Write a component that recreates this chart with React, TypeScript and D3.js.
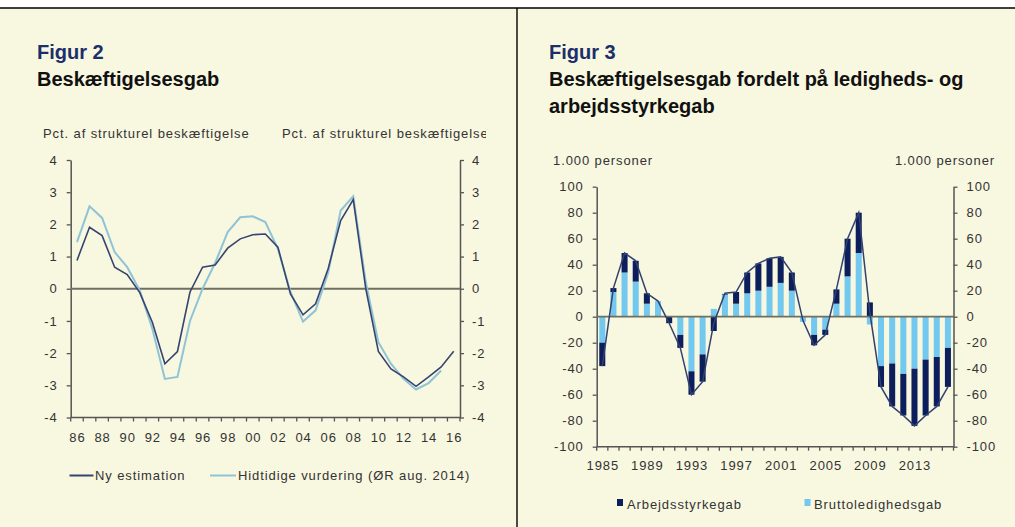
import React, { useRef, useEffect } from "react";
import * as d3 from "d3";

// Figur 2 - beskæftigelsesgab, pct. af strukturel beskæftigelse
const yearsFig2 = [1986, 1987, 1988, 1989, 1990, 1991, 1992, 1993, 1994, 1995, 1996, 1997, 1998, 1999, 2000, 2001, 2002, 2003, 2004, 2005, 2006, 2007, 2008, 2009, 2010, 2011, 2012, 2013, 2014, 2015, 2016];
const nyEstimation = [0.88, 1.91, 1.65, 0.67, 0.44, -0.12, -1.04, -2.33, -1.95, -0.1, 0.67, 0.74, 1.26, 1.55, 1.68, 1.7, 1.29, -0.16, -0.81, -0.47, 0.62, 2.12, 2.77, 0.0, -1.95, -2.49, -2.74, -3.03, -2.74, -2.43, -1.94];
const hidtidigeVurdering = [1.45, 2.56, 2.2, 1.14, 0.67, -0.05, -1.24, -2.8, -2.74, -1.0, 0.0, 0.8, 1.76, 2.22, 2.25, 2.07, 1.24, -0.1, -1.02, -0.67, 0.5, 2.43, 2.87, 0.2, -1.66, -2.33, -2.8, -3.13, -2.93, -2.54, null];
const fig2YearLabels = ["86", "88", "90", "92", "94", "96", "98", "00", "02", "04", "06", "08", "10", "12", "14", "16"];
const fig2Ticks = [-4, -3, -2, -1, 0, 1, 2, 3, 4];

// Figur 3 - 1.000 personer
const yearsFig3 = [1985, 1986, 1987, 1988, 1989, 1990, 1991, 1992, 1993, 1994, 1995, 1996, 1997, 1998, 1999, 2000, 2001, 2002, 2003, 2004, 2005, 2006, 2007, 2008, 2009, 2010, 2011, 2012, 2013, 2014, 2015, 2016];
const bruttoledighedsgab = [-20, 19, 34, 27, 10, 12, 0, -14, -42, -29, 6, 17, 10, 18, 20, 23, 26, 20, -4, -14, -10, 10, 31, 49, -6, -38, -36, -44, -40, -33, -31, -24];
const arbejdsstyrkegab = [-18, 3, 15, 16, 8, 0, -5, -10, -18, -21, -11, 0.5, 9, 16, 21, 22, 20, 14, 0, -8, -4, 11, 29, 31, 11, -16, -33, -32, -44, -43, -38, -30];
const beskaeftigelsesgab = [-38, 22, 49, 43, 18, 12, -5, -24, -60, -50, -5, 18, 19, 34, 41, 45, 46, 34, -3, -22, -14, 21, 60, 80, 3, -54, -69, -76, -84, -76, -69, -54];
const fig3YearLabels = [1985, 1989, 1993, 1997, 2001, 2005, 2009, 2013];
const fig3Ticks = [-100, -80, -60, -40, -20, 0, 20, 40, 60, 80, 100];

const FONT = "'Liberation Sans', Arial, Helvetica, sans-serif";
const TXT = "#333";
const AXIS = "#555";

const App = () => {
    const chartRef = useRef<SVGSVGElement>(null);

    useEffect(() => {
        const width = 1015;
        const height = 527;
        const svg = d3.select(chartRef.current);
        svg.selectAll("*").remove();

        // page frame
        svg.append("rect").attr("width", width).attr("height", height).attr("fill", "#fff");
        svg.append("rect").attr("y", 8).attr("width", width).attr("height", height - 8).attr("fill", "#f8f7e0");
        svg.append("line").attr("x1", 0).attr("x2", width).attr("y1", 8).attr("y2", 8)
            .attr("stroke", "#000").attr("stroke-width", 1.6);
        svg.append("line").attr("x1", 517).attr("x2", 517).attr("y1", 8).attr("y2", height)
            .attr("stroke", "#000").attr("stroke-width", 1.4);

        const title = (x: number, y: number, t: string, fill: string) =>
            svg.append("text").attr("x", x).attr("y", y).attr("fill", fill)
                .style("font", `bold 20px ${FONT}`).text(t);
        title(37, 59, "Figur 2", "#1b2f6b");
        title(37, 86, "Beskæftigelsesgab", "#111");
        title(549, 59, "Figur 3", "#1b2f6b");
        title(549, 86, "Beskæftigelsesgab fordelt på ledigheds- og", "#111");
        title(549, 113, "arbejdsstyrkegab", "#111");

        const small = (x: number, y: number, t: string, anchor = "start") =>
            svg.append("text").attr("x", x).attr("y", y).attr("fill", TXT)
                .attr("text-anchor", anchor)
                .style("font", `13px ${FONT}`).style("letter-spacing", "0.9px").text(t);

        // plain hyphen minus like the original
        const fmt = (d: any) => String(d);

        const styleAxis = (g: any) => {
            g.select(".domain").attr("stroke", AXIS).attr("stroke-width", 1.5);
            g.selectAll(".tick line").attr("stroke", AXIS).attr("stroke-width", 1.3);
            g.selectAll(".tick text").attr("fill", TXT)
                .style("font", `13px ${FONT}`).style("letter-spacing", "0.9px");
        };

        // ---------- Figur 2 ----------
        const x2 = d3.scaleBand<number>().domain(yearsFig2).range([70.7, 460]);
        const y2 = d3.scaleLinear().domain([-4, 4]).range([417.5, 160]);
        const bw2 = x2.bandwidth();

        small(43, 138, "Pct. af strukturel beskæftigelse");
        svg.append("clipPath").attr("id", "clipRight").append("rect")
            .attr("x", 270).attr("y", 120).attr("width", 216).attr("height", 30);
        small(282, 138, "Pct. af strukturel beskæftigelse").attr("clip-path", "url(#clipRight)");

        svg.append("g").attr("transform", "translate(70.7,0)")
            .call(d3.axisLeft(y2).tickValues(fig2Ticks).tickFormat(fmt).tickSize(4).tickSizeOuter(0).tickPadding(9))
            .call(styleAxis);
        svg.append("g").attr("transform", "translate(460,0)")
            .call(d3.axisRight(y2).tickValues(fig2Ticks).tickFormat(fmt).tickSize(4).tickSizeOuter(0).tickPadding(8))
            .call(styleAxis);

        const bottom2 = svg.append("g");
        bottom2.append("line").attr("x1", 70.7).attr("x2", 460).attr("y1", y2(-4)).attr("y2", y2(-4))
            .attr("stroke", AXIS).attr("stroke-width", 1.5);
        yearsFig2.concat([2017]).forEach((yr, i) => {
            const xx = 70.7 + i * bw2;
            bottom2.append("line").attr("x1", xx).attr("x2", xx).attr("y1", y2(-4)).attr("y2", y2(-4) + 4)
                .attr("stroke", AXIS).attr("stroke-width", 1.3);
        });
        fig2YearLabels.forEach((lab, i) => {
            const yr = yearsFig2[i * 2];
            small((x2(yr) as number) + bw2 / 2 + 0.5, 442, lab, "middle");
        });

        svg.append("line").attr("x1", 70.7).attr("x2", 460).attr("y1", y2(0)).attr("y2", y2(0))
            .attr("stroke", "#6f6f62").attr("stroke-width", 2);

        const line2 = d3.line<number | null>()
            .defined(d => d !== null)
            .x((d, i) => (x2(yearsFig2[i]) as number) + bw2 / 2)
            .y(d => y2(d as number));

        svg.append("path").datum(hidtidigeVurdering).attr("fill", "none")
            .attr("stroke", "#8fc4d6").attr("stroke-width", 2).attr("d", line2);
        svg.append("path").datum(nyEstimation).attr("fill", "none")
            .attr("stroke", "#37446f").attr("stroke-width", 1.6).attr("d", line2);

        // legend
        svg.append("line").attr("x1", 69.5).attr("x2", 93.5).attr("y1", 475.5).attr("y2", 475.5)
            .attr("stroke", "#37446f").attr("stroke-width", 2);
        small(95, 480, "Ny estimation");
        svg.append("line").attr("x1", 210).attr("x2", 236).attr("y1", 475.5).attr("y2", 475.5)
            .attr("stroke", "#8fc4d6").attr("stroke-width", 2);
        small(238, 480, "Hidtidige vurdering (ØR aug. 2014)");

        // ---------- Figur 3 ----------
        const x3 = d3.scaleBand<number>().domain(yearsFig3).range([596.7, 953.5])
            .paddingInner(0.46).paddingOuter(0.23);
        const y3 = d3.scaleLinear().domain([-100, 100]).range([446.7, 186.7]);
        const bw3 = x3.bandwidth();
        const step3 = x3.step();

        small(553, 165, "1.000 personer");
        small(995, 165, "1.000 personer", "end");

        svg.append("g").attr("transform", "translate(596.7,0)")
            .call(d3.axisLeft(y3).tickValues(fig3Ticks).tickFormat(fmt).tickSize(4).tickSizeOuter(0).tickPadding(9))
            .call(styleAxis);
        svg.append("g").attr("transform", "translate(953.5,0)")
            .call(d3.axisRight(y3).tickValues(fig3Ticks).tickFormat(fmt).tickSize(4).tickSizeOuter(0).tickPadding(9))
            .call(styleAxis);

        const bottom3 = svg.append("g");
        bottom3.append("line").attr("x1", 596.7).attr("x2", 953.5).attr("y1", y3(-100)).attr("y2", y3(-100))
            .attr("stroke", AXIS).attr("stroke-width", 1.5);
        yearsFig3.forEach(yr => {
            const xx = (x3(yr) as number) + bw3 / 2 - step3 / 2;
            bottom3.append("line").attr("x1", xx).attr("x2", xx).attr("y1", y3(-100)).attr("y2", y3(-100) + 4)
                .attr("stroke", AXIS).attr("stroke-width", 1.3);
        });
        bottom3.append("line").attr("x1", 953.5).attr("x2", 953.5).attr("y1", y3(-100)).attr("y2", y3(-100) + 4)
            .attr("stroke", AXIS).attr("stroke-width", 1.3);
        fig3YearLabels.forEach(yr => {
            small((x3(yr) as number) + bw3 / 2 + 0.5, 470, String(yr), "middle");
        });

        const rows = yearsFig3.map((yr, i) => ({
            year: yr,
            brutto: bruttoledighedsgab[i],
            arbejd: arbejdsstyrkegab[i],
        }));
        const series = d3.stack<any>().keys(["brutto", "arbejd"]).offset(d3.stackOffsetDiverging)(rows);
        const colors: Record<string, string> = { brutto: "#72c8ee", arbejd: "#0c1e5b" };

        series.forEach(s => {
            svg.append("g").attr("fill", colors[s.key])
                .selectAll("rect").data(s).join("rect")
                .attr("x", (d: any) => x3(d.data.year) as number)
                .attr("width", bw3)
                .attr("y", (d: any) => y3(Math.max(d[0], d[1])))
                .attr("height", (d: any) => Math.abs(y3(d[0]) - y3(d[1])));
        });

        svg.append("line").attr("x1", 596.7).attr("x2", 953.5).attr("y1", y3(0)).attr("y2", y3(0))
            .attr("stroke", "#6f6f62").attr("stroke-width", 1.8);

        const line3 = d3.line<number>()
            .x((d, i) => (x3(yearsFig3[i]) as number) + bw3 / 2)
            .y(d => y3(d));
        svg.append("path").datum(beskaeftigelsesgab).attr("fill", "none")
            .attr("stroke", "#33416f").attr("stroke-width", 1.5).attr("d", line3);

        // legend
        svg.append("rect").attr("x", 617).attr("y", 499).attr("width", 6).attr("height", 7).attr("fill", colors.arbejd);
        small(627, 508.5, "Arbejdsstyrkegab");
        svg.append("rect").attr("x", 804.5).attr("y", 499).attr("width", 6).attr("height", 7).attr("fill", colors.brutto);
        small(814, 508.5, "Bruttoledighedsgab");
    }, []);

    return (
        <svg ref={chartRef} width={1015} height={527}
            style={{ position: "absolute", left: 0, top: 0, display: "block" }} />
    );
};

export default App;
